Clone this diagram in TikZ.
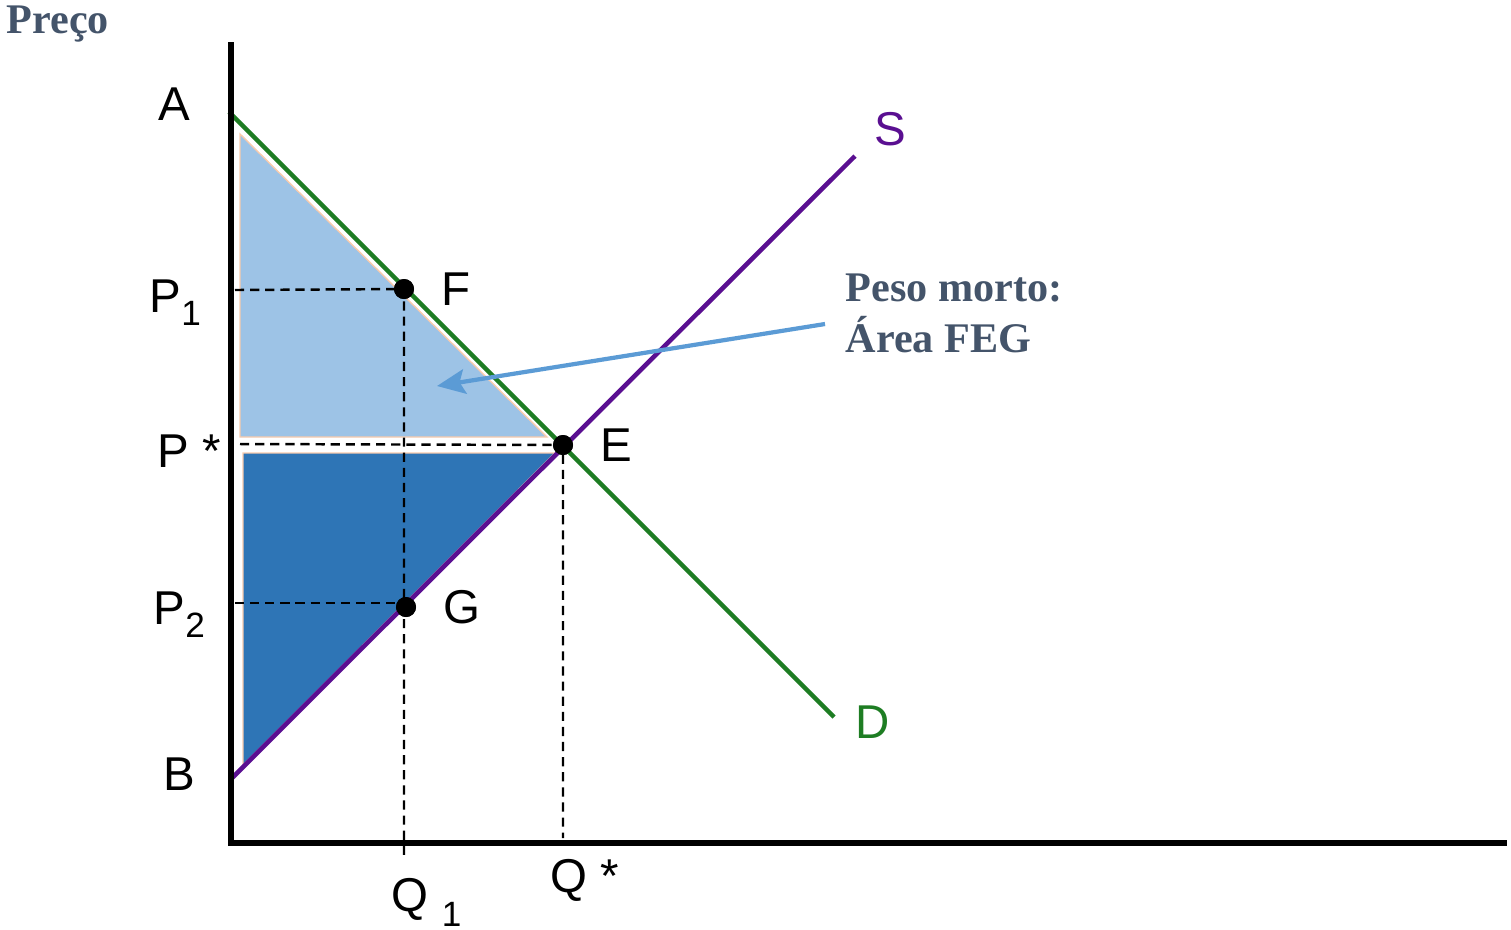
\documentclass[tikz,border=0pt]{standalone}
\usepackage{fontspec}
\setmainfont{Liberation Sans}
\newfontfamily\notefont{Liberation Serif}
\usepackage{tikz}
\usetikzlibrary{positioning,arrows.meta}
\definecolor{demandgreen}{RGB}{30,125,35}
\definecolor{supplypurple}{RGB}{90,15,145}
\definecolor{surpluslight}{RGB}{157,195,230}
\definecolor{surplusdark}{RGB}{46,117,182}
\definecolor{arrowblue}{RGB}{91,155,213}
\definecolor{edgepeach}{RGB}{248,203,173}
\definecolor{notegray}{RGB}{68,84,106}
\newcommand{\lowsub}[1]{\raisebox{-1.3mm}{\fontsize{10}{12}\selectfont #1}}
\tikzset{
  axisline/.style={line width=1.45pt, black},
  demandline/.style={line width=1.3pt, demandgreen},
  supplyline/.style={line width=1.3pt, supplypurple},
  guideline/.style={line width=0.7pt, dash pattern=on 2.6pt off 1.7pt},
  eqdot/.style={circle, fill=black, inner sep=0pt, minimum size=2mm},
  plabel/.style={font=\fontsize{13.5}{16}\selectfont, inner sep=0pt},
  notelabel/.style={font=\notefont\bfseries\fontsize{12}{14.5}\selectfont,
                    text=notegray, align=left, inner sep=0pt},
  lightarea/.style={fill=surpluslight, draw=edgepeach, line width=0.4pt},
  darkarea/.style={fill=surplusdark, draw=edgepeach, line width=0.4pt},
  notearrow/.style={arrowblue, line width=1.2pt,
                    -{Stealth[length=8pt,width=7pt,inset=1.5pt]}},
}

\begin{document}
\begin{tikzpicture}[x=0.01cm, y=-0.01cm]
  \useasboundingbox (0,0) rectangle (1511,929);

  % surplus areas
  \path[lightarea] (240,134) -- (240,437) -- (547,437) -- cycle;
  \path[darkarea] (243,453) -- (555,453) -- (243,765) -- cycle;

  % points on the curves
  \node[eqdot] (F) at (404,289) {};
  \node[eqdot] (E) at (563,445) {};
  \node[eqdot] (G) at (406,607) {};
  \coordinate (p1axis) at (235,290);
  \coordinate (psaxis) at (240,444);
  \coordinate (p2axis) at (235,603);
  \coordinate (q1foot) at (404,855);
  \coordinate (qsfoot) at (563,838);

  % guides
  \draw[guideline] (p1axis) -- (F.center) -- (q1foot);
  \draw[guideline] (psaxis) -- (E.center) -- (qsfoot);
  \draw[guideline] (p2axis) -- (p2axis -| G);

  % demand and supply
  \coordinate (dStart) at (229,112);
  \coordinate (dEnd) at (834,717);
  \coordinate (sStart) at (231,779);
  \coordinate (sEnd) at (855,156);
  \draw[demandline] (dStart) -- (dEnd);
  \draw[supplyline] (sStart) -- (sEnd);
  \node[eqdot] at (F) {};
  \node[eqdot] at (E) {};
  \node[eqdot] at (G) {};

  % axes
  \draw[axisline] (231,42) -- (231,843) -- (1507,843);

  % labels
  \node[plabel, right=2.6mm of F] (lblF) {F};
  \node[plabel, right=2.6mm of E] (lblE) {E};
  \node[plabel, right=2.6mm of G] (lblG) {G};
  \node[plabel, text=supplypurple, above right=0.9mm and 1.9mm of sEnd] (lblS) {S};
  \node[plabel, text=demandgreen, right=2.1mm of dEnd, yshift=-0.5mm] (lblD) {D};
  \node[plabel, anchor=base west] (lblA) at (158,120) {A};
  \node[plabel, anchor=base west] (lblB) at (163,790) {B};
  \node[plabel, anchor=base west] (lblP1) at (149,312) {P\lowsub{1}};
  \node[plabel, anchor=base west] (lblPs) at (157,467) {P *};
  \node[plabel, anchor=base west] (lblP2) at (153,624) {P\lowsub{2}};
  \node[plabel, anchor=base west] (lblQ1) at (391,911) {Q \raisebox{-1.5mm}{\fontsize{10}{12}\selectfont 1}};
  \node[plabel, anchor=base west] (lblQs) at (550,892) {Q *};

  \node[notelabel, anchor=base west] (axisname) at (6,33) {Preço};
  \node[notelabel, anchor=north west] (note) at (845,273) {Peso morto:\\Área FEG};
  \coordinate (noteTail) at (825,324);
  \coordinate (deadArea) at (437,386);
  \draw[notearrow] (noteTail) -- (deadArea);
\end{tikzpicture}
\end{document}
